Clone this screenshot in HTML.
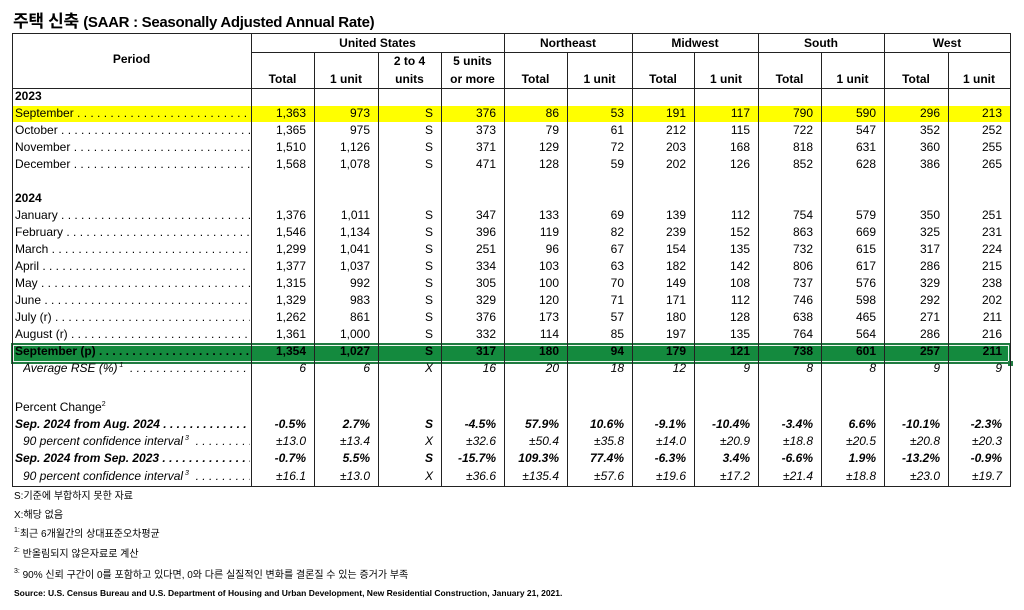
<!DOCTYPE html>
<html><head><meta charset="utf-8">
<style>
body{margin:0;width:1024px;height:610px;background:#fff;position:relative;overflow:hidden;font-family:"Liberation Sans","Noto Sans CJK KR",sans-serif;color:#000}
.a{position:absolute;white-space:nowrap}
.t{font-size:12px;line-height:17px;height:17px}
.r{text-align:right}
.c{text-align:center}
.lbl{overflow:hidden}
.vl{position:absolute;width:1px;background:#222}
.hl{position:absolute;height:1px;background:#222}
.n{font-size:10px;line-height:14px}
.sp{font-size:7px;line-height:0;position:relative;top:-5px}
</style></head><body>
<div class="a" style="left:13px;top:7px;font-size:17px;font-weight:bold;letter-spacing:-0.3px">주택 신축 <span style="font-size:15px">(SAAR : Seasonally Adjusted Annual Rate)</span></div>
<div id="tbl"></div>
<div class="a n" style="left:14px;top:490px">S:기준에 부합하지 못한 자료</div>
<div class="a n" style="left:14px;top:509px">X:해당 없음</div>
<div class="a n" style="left:14px;top:528px"><span class="sp">1:</span>최근 6개월간의 상대표준오차평균</div>
<div class="a n" style="left:14px;top:548px"><span class="sp">2:</span> 반올림되지 않은자료로 계산</div>
<div class="a n" style="left:14px;top:569px"><span class="sp">3:</span> 90% 신뢰 구간이 0를 포함하고 있다면, 0와 다른 실질적인 변화를 결론질 수 있는 증거가 부족</div>
<div class="a" style="left:14px;top:588px;font-size:8.5px;font-weight:bold">Source: U.S. Census Bureau and U.S. Department of Housing and Urban Development, New Residential Construction, January 21, 2021.</div>
<script>
var E=[12,251,314,378,441,504,567,632,694,758,821,884,948,1010];
var h='';
function box(l,t,w,ht,bg){h+='<div class="a" style="left:'+l+'px;top:'+t+'px;width:'+w+'px;height:'+ht+'px;background:'+bg+'"></div>';}
box(12,106,998,16,'#ffff00');
box(11,343,1000,21,'#1f7a40');box(13,345,996,17,'#ebf5ee');box(14,346,994,15,'#148a3e');
box(1008,361,5,5,'#1f7a40');
function v(x,t,b){h+='<div class="vl" style="left:'+x+'px;top:'+t+'px;height:'+(b-t)+'px"></div>';}
function hz(y,l,r){h+='<div class="hl" style="top:'+y+'px;left:'+l+'px;width:'+(r-l)+'px"></div>';}
hz(33,12,1011);hz(52,251,1011);hz(88,12,1011);hz(486,12,1011);
[12,251,504,632,758,884,1010].forEach(function(x){v(x,33,487)});
[314,378,441,567,694,821,948].forEach(function(x){v(x,52,487)});
function txt(l,t,w,s,cls,st){h+='<div class="a t '+(cls||'')+'" style="left:'+l+'px;top:'+t+'px;width:'+w+'px;'+(st||'')+'">'+s+'</div>';}
var B='font-weight:bold;';
txt(12,51,239,'Period','c',B);
[['United States',251,504],['Northeast',504,632],['Midwest',632,758],['South',758,884],['West',884,1010]].forEach(function(g){txt(g[1],35,g[2]-g[1],g[0],'c',B)});
var hd=['Total','1 unit','units','or more','Total','1 unit','Total','1 unit','Total','1 unit','Total','1 unit'];
for(var i=0;i<12;i++)txt(E[i+1],71,E[i+2]-E[i+1],hd[i],'c',B);
txt(378,53,63,'2 to 4','c',B);txt(441,53,63,'5 units','c',B);
var D='. . . . . . . . . . . . . . . . . . . . . . . . . . . . . . . . . . . . . . . . . . . . . . . . . . . . . . . . . . . . . . . . .';
var S1='<span class="sp">&nbsp;1</span>&nbsp;',S3='<span class="sp">&nbsp;3</span>&nbsp;';
var rows=[
[97,'2023',null,'b'],
[114,'September',['1,363','973','S','376','86','53','191','117','790','590','296','213']],
[131,'October',['1,365','975','S','373','79','61','212','115','722','547','352','252']],
[148,'November',['1,510','1,126','S','371','129','72','203','168','818','631','360','255']],
[165,'December',['1,568','1,078','S','471','128','59','202','126','852','628','386','265']],
[199,'2024',null,'b'],
[216,'January',['1,376','1,011','S','347','133','69','139','112','754','579','350','251']],
[233,'February',['1,546','1,134','S','396','119','82','239','152','863','669','325','231']],
[250,'March',['1,299','1,041','S','251','96','67','154','135','732','615','317','224']],
[267,'April',['1,377','1,037','S','334','103','63','182','142','806','617','286','215']],
[284,'May',['1,315','992','S','305','100','70','149','108','737','576','329','238']],
[301,'June',['1,329','983','S','329','120','71','171','112','746','598','292','202']],
[318,'July (r)',['1,262','861','S','376','173','57','180','128','638','465','271','211']],
[335,'August (r)',['1,361','1,000','S','332','114','85','197','135','764','564','286','216']],
[352,'September (p)',['1,354','1,027','S','317','180','94','179','121','738','601','257','211'],'bd'],
[369,'Average RSE (%)'+S1,['6','6','X','16','20','18','12','9','8','8','9','9'],'i',8],
[408,'Percent Change<span class="sp">2</span>',null,''],
[425,'Sep. 2024 from Aug. 2024',['-0.5%','2.7%','S','-4.5%','57.9%','10.6%','-9.1%','-10.4%','-3.4%','6.6%','-10.1%','-2.3%'],'bi'],
[442,'90 percent confidence interval'+S3,['±13.0','±13.4','X','±32.6','±50.4','±35.8','±14.0','±20.9','±18.8','±20.5','±20.8','±20.3'],'i',8],
[459,'Sep. 2024 from Sep. 2023',['-0.7%','5.5%','S','-15.7%','109.3%','77.4%','-6.3%','3.4%','-6.6%','1.9%','-13.2%','-0.9%'],'bi'],
[477,'90 percent confidence interval'+S3,['±16.1','±13.0','X','±36.6','±135.4','±57.6','±19.6','±17.2','±21.4','±18.8','±23.0','±19.7'],'i',8]
];
rows.forEach(function(r){
 var y=r[0]-9,f=r[3]||'',st='';
 if(f.indexOf('b')>=0)st+='font-weight:bold;';
 if(f.indexOf('i')>=0)st+='font-style:italic;';
 var ind=r[4]||0;
 if(r[2]){txt(15+ind,y,235-ind,r[1]+' '+D,'lbl',st);}
 else txt(15,y,235,r[1],'',st);
 if(r[2])for(var i=0;i<12;i++){txt(E[i+1],y,E[i+2]-E[i+1]-8,r[2][i],'r',st);}
});
document.getElementById('tbl').innerHTML=h;
</script>
</body></html>
